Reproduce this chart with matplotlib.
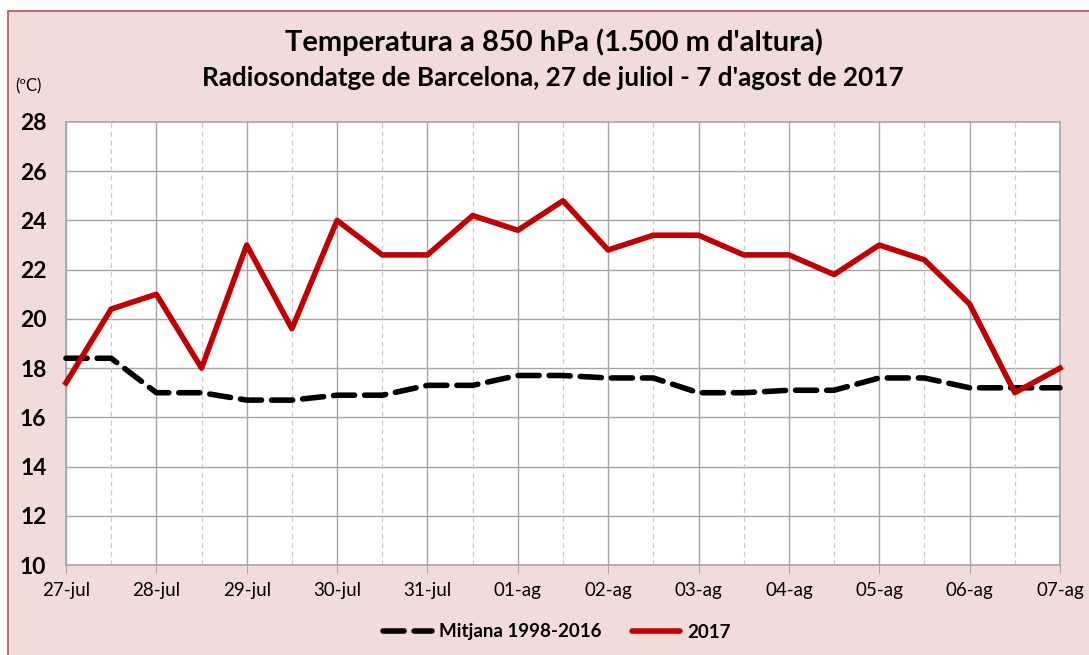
import numpy as np
import matplotlib
matplotlib.use("Agg")
import matplotlib.pyplot as plt
from matplotlib.patches import Rectangle
from matplotlib.lines import Line2D

# data: soundings every 12 h, 27-jul 00 UTC to 07-ag 00 UTC
day_labels = ['27-jul', '28-jul', '29-jul', '30-jul', '31-jul', '01-ag',
              '02-ag', '03-ag', '04-ag', '05-ag', '06-ag', '07-ag']
t2017 = [17.4, 20.4, 21.0, 18.0, 23.0, 19.6, 24.0, 22.6, 22.6, 24.2, 23.6, 24.8,
         22.8, 23.4, 23.4, 22.6, 22.6, 21.8, 23.0, 22.4, 20.6, 17.0, 18.0]
mitjana = [18.4, 18.4, 17.0, 17.0, 16.7, 16.7, 16.9, 16.9, 17.3, 17.3, 17.7, 17.7,
           17.6, 17.6, 17.0, 17.0, 17.1, 17.1, 17.6, 17.6, 17.2, 17.2, 17.2]

x = np.arange(len(t2017)) * 0.5

plt.rcParams['font.family'] = ['Lato', 'DejaVu Sans']
pink = '#F2DCDB'
gridc = '#A6A6A6'

W, H = 1089, 655
fig = plt.figure(figsize=(W / 100, H / 100), dpi=100)
fig.patch.set_facecolor('white')

# pink chart area with thin red border (bottom and right edges fall outside the picture)
fig.patches.append(Rectangle((7.5 / W, -0.05), 1.1, 1.05 - 11.5 / H, transform=fig.transFigure,
                             facecolor=pink, edgecolor='#C0504D', linewidth=1.2, zorder=-10))

ax = fig.add_axes([66 / W, 1 - 565 / H, (1060 - 66) / W, (565 - 122) / H])
ax.set_facecolor('white')

# grid
for v in range(12, 28, 2):
    ax.axhline(v, color=gridc, lw=1.0, zorder=1)
for i in range(len(day_labels)):
    ax.axvline(i, color=gridc, lw=1.0, zorder=1)
for i in range(len(day_labels) - 1):
    ax.axvline(i + 0.5, color='#C8C8C8', lw=0.9, ls=(0, (4, 3)), zorder=1)

ax.plot(x, mitjana, color='black', lw=4.0, ls=(0, (3.8, 1.8)), solid_capstyle='round',
        dash_capstyle='round', zorder=3, clip_on=False)
ax.plot(x, t2017, color='#C00000', lw=4.0, zorder=4, clip_on=False)

ax.set_xlim(0, 11)
ax.set_ylim(10, 28)
ax.set_xticks(range(12))
ax.set_xticklabels(day_labels, fontsize=13.5)
ax.set_yticks(range(10, 29, 2))
ax.set_yticklabels([str(v) for v in range(10, 29, 2)], fontsize=16.5, fontweight='bold')
ax.tick_params(axis='x', direction='out', length=6, color=gridc, pad=6)
ax.tick_params(axis='y', length=0, pad=14)
for s in ax.spines.values():
    s.set_color(gridc)
    s.set_linewidth(1.2)

fig.text(554 / W, 1 - 42 / H, "Temperatura a 850 hPa (1.500 m d'altura)", ha='center',
         va='center', fontsize=21, fontweight='bold')
fig.text(553 / W, 1 - 78 / H, "Radiosondatge de Barcelona, 27 de juliol - 7 d'agost de 2017",
         ha='center', va='center', fontsize=18.8, fontweight='bold')
fig.text(15 / W, 1 - 86 / H, "(ºC)", ha='left', va='center', fontsize=12)

handles = [Line2D([], [], color='black', lw=4.0, ls=(0, (3.8, 1.8)), dash_capstyle='round'),
           Line2D([], [], color='#C00000', lw=4.0, solid_capstyle='round')]
leg = fig.legend(handles, ['Mitjana 1998-2016', '2017'], loc='center',
                 bbox_to_anchor=(557 / W, 1 - 632 / H), ncol=2, frameon=False,
                 prop={'weight': 'bold', 'size': 13.5}, handlelength=2.6,
                 columnspacing=1.6, handletextpad=0.4)

fig.savefig('out.png', dpi=100, facecolor=fig.get_facecolor())
